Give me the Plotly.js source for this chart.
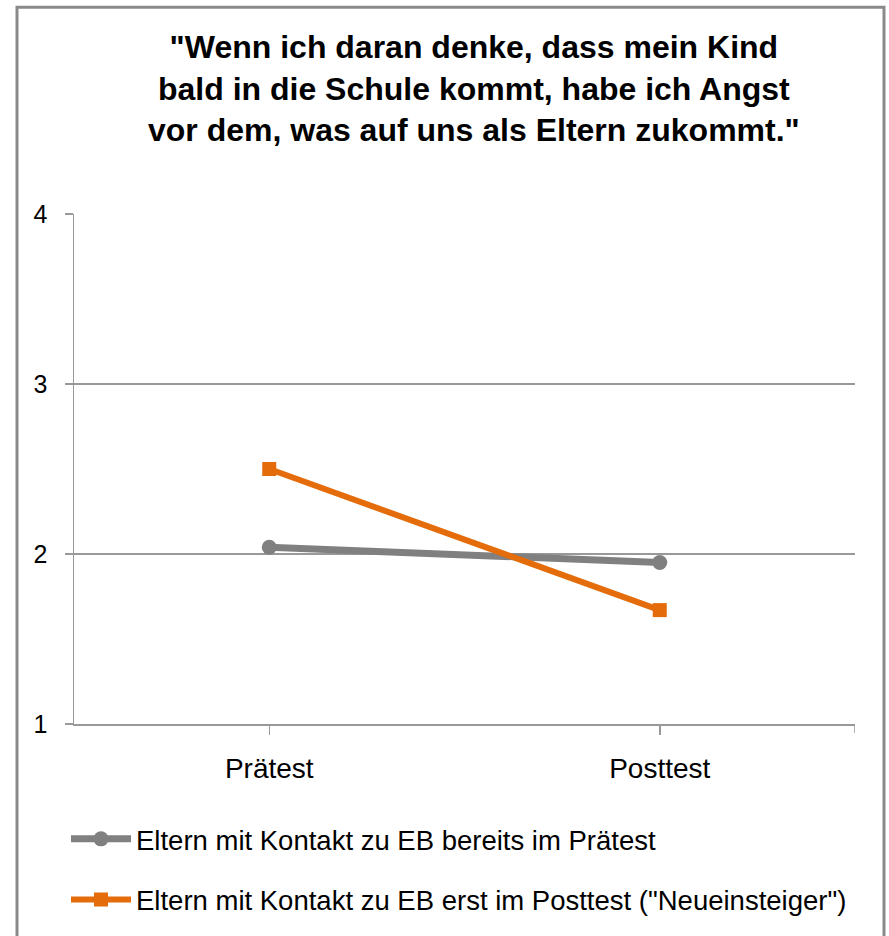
<!DOCTYPE html>
<html>
<head>
<meta charset="utf-8">
<script src="https://cdn.plot.ly/plotly-3.0.1.min.js"></script>
<style>html,body{margin:0;padding:0;background:#fff;}#chart{width:889px;height:936px;}</style>
</head>
<body>
<div id="chart"></div>
<script>
const categories = ["Prätest", "Posttest"];
const seriesNames = [
  "Eltern mit Kontakt zu EB bereits im Prätest",
  "Eltern mit Kontakt zu EB erst im Posttest (\"Neueinsteiger\")"
];
const valuesBereits = [2.04, 1.95];
const valuesNeu = [2.50, 1.67];
const yTicks = [1, 2, 3, 4];
const titleLines = [
  "\"Wenn ich daran denke, dass mein Kind",
  "bald in die Schule kommt, habe ich Angst",
  "vor dem, was auf uns als Eltern zukommt.\""
];

const W = 889, H = 936;
const M = {l: 74, r: 34, t: 214, b: 209};
const pw = W - M.l - M.r, ph = H - M.t - M.b;
const px2x = p => (p - M.l) / pw;
const py2y = p => (H - M.b - p) / ph;

const font = "Liberation Sans, Arial, sans-serif";
const gray = "#808080";
const orange = "#E46C0A";
const axisCol = "#999999";

const traces = [
  {
    x: categories, y: valuesBereits, name: seriesNames[0], type: "scatter", mode: "lines+markers",
    legendgroup: "a",
    line: {color: gray, width: 7},
    marker: {symbol: "circle", size: 15, color: gray}
  },
  {
    x: categories, y: valuesNeu, name: seriesNames[1], type: "scatter", mode: "lines+markers",
    legendgroup: "b",
    line: {color: orange, width: 6},
    marker: {symbol: "square", size: 14, color: orange}
  }
];

const layout = {
  width: W, height: H,
  margin: M,
  paper_bgcolor: "#fff", plot_bgcolor: "#fff",
  showlegend: true,
  title: {
    text: "<b>" + titleLines.join("<br>") + "</b>",
    font: {family: font, size: 32, color: "#000"},
    x: 0.512, xanchor: "center", xref: "paper",
    y: 1 - 58 / H, yanchor: "top", yref: "container"
  },
  xaxis: {
    type: "category",
    range: [-0.5, 1.5],
    showgrid: false,
    showline: true, linecolor: axisCol, linewidth: 1.5,
    ticks: "outside", ticklen: 9, tickcolor: axisCol, tickwidth: 1.5,
    ticklabelstandoff: 10,
    tickfont: {family: font, size: 28, color: "#000"},
    zeroline: false, fixedrange: true
  },
  yaxis: {
    range: [1, 4],
    tickvals: yTicks,
    ticktext: yTicks.map(String),
    showgrid: true, gridcolor: axisCol, gridwidth: 1.5,
    showline: true, linecolor: axisCol, linewidth: 1.5,
    ticks: "outside", ticklen: 8, tickcolor: axisCol, tickwidth: 1.5,
    ticklabelstandoff: 12,
    tickfont: {family: font, size: 25, color: "#000"},
    zeroline: false, fixedrange: true
  },
  legend: {
    x: px2x(66), xanchor: "left",
    y: py2y(818), yanchor: "top",
    orientation: "v",
    traceorder: "grouped",
    tracegroupgap: 22,
    itemwidth: 60,
    font: {family: font, size: 27.5, color: "#000"},
    bgcolor: "rgba(0,0,0,0)"
  },
  shapes: [
    {type: "line", xref: "x", yref: "paper", x0: 1.5, x1: 1.5, y0: 0, y1: -9 / ph,
     line: {color: axisCol, width: 1.5}},
    {type: "rect", xref: "paper", yref: "paper",
     x0: px2x(17), x1: px2x(884), y0: py2y(6), y1: py2y(960),
     line: {color: "#8a8a8a", width: 3}, fillcolor: "rgba(0,0,0,0)"}
  ]
};

Plotly.newPlot("chart", traces, layout, {displayModeBar: false, staticPlot: true});
</script>
</body>
</html>
